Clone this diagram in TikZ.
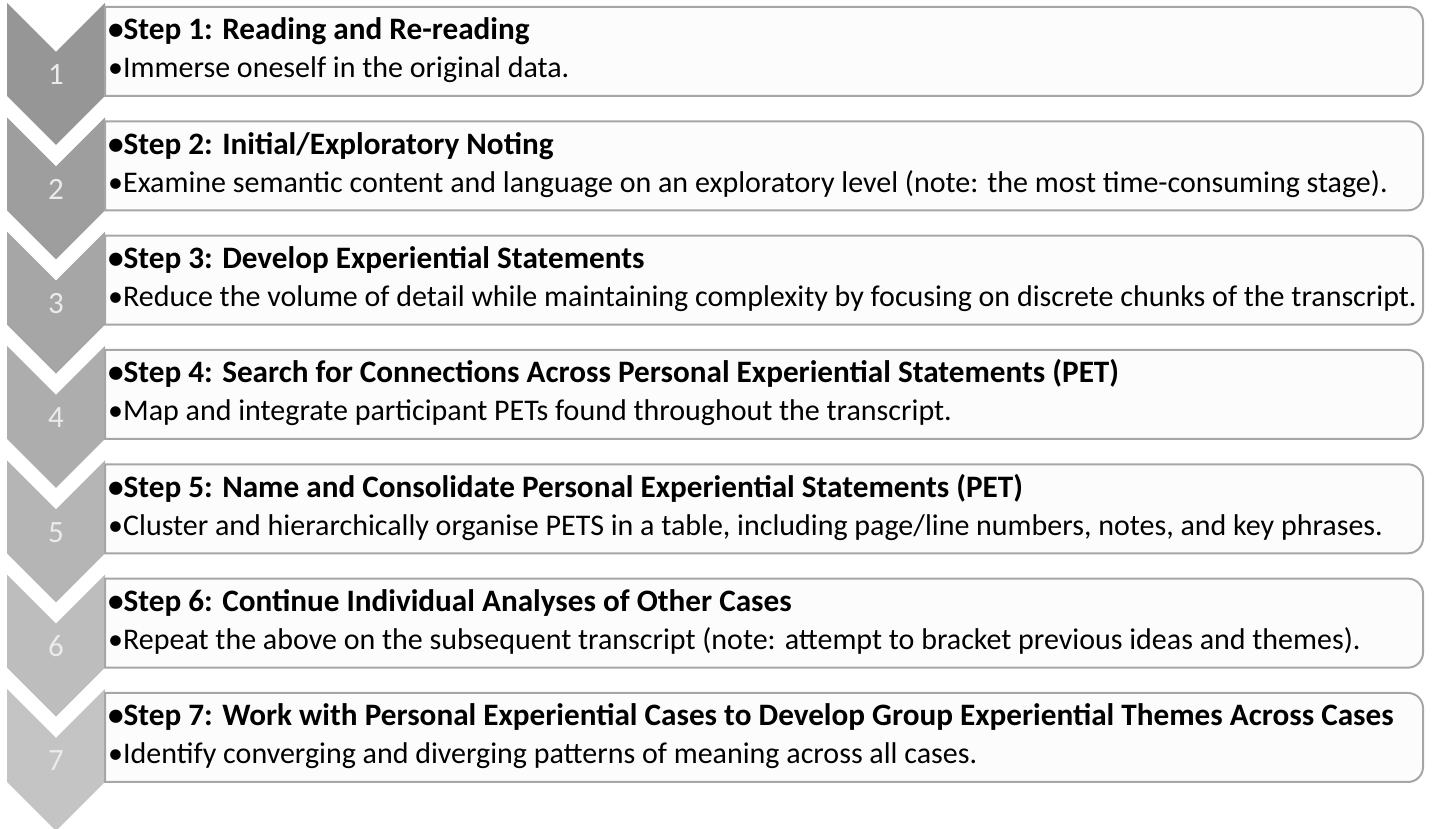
\documentclass[tikz,border=0pt]{standalone}
\usepackage{fontspec}
\setmainfont{Carlito}
\begin{document}
\begin{tikzpicture}[x=1pt,y=1pt,
  boxstyle/.style={draw=black!35, line width=2pt, fill=black!1},
  numstyle/.style={text=white!92!black, font=\fontsize{31}{34}\selectfont},
  titlestyle/.style={anchor=base west, inner sep=0pt, font=\fontsize{31.2}{34}\selectfont\bfseries},
  descstyle/.style={anchor=base west, inner sep=0pt, font=\fontsize{30}{34}\selectfont}]
\useasboundingbox (0,0) rectangle (1432,829);
\foreach \k/\g/\ti/\de in {
 1/41/{Reading and Re-reading}/{Immerse oneself in the original data.},
 2/38/{Initial/Exploratory Noting}/{Examine semantic content and language on an exploratory level (note: the most time-consuming stage).},
 3/35/{Develop Experiential Statements}/{Reduce the volume of detail while maintaining complexity by focusing on discrete chunks of the transcript.},
 4/32/{Search for Connections Across Personal Experiential Statements (PET)}/{Map and integrate participant PETs found throughout the transcript.},
 5/29/{Name and Consolidate Personal Experiential Statements (PET)}/{Cluster and hierarchically organise PETS in a table, including page/line numbers, notes, and key phrases.},
 6/26/{Continue Individual Analyses of Other Cases}/{Repeat the above on the subsequent transcript (note: attempt to bracket previous ideas and themes).},
 7/23/{Work with Personal Experiential Cases to Develop Group Experiential Themes Across Cases}/{Identify converging and diverging patterns of meaning across all cases.}}{
  \pgfmathsetmacro\t{829-3-(\k-1)*114.33}
  \pgfmathsetmacro\bt{829-7-(\k-1)*114.33}
  \pgfmathsetmacro\bb{\bt-89}
  \fill[black!\g] (7,\t) -- (56,\t-49) -- (105,\t) -- (105,\t-93) -- (56,\t-142) -- (7,\t-93) -- cycle;
  \node[numstyle] (num\k) at (56,\t-72) {\k};
  \draw[boxstyle] (105,\bt) -- (1408,\bt) arc[start angle=90,end angle=0,radius=15]
     -- (1423,\bb+15) arc[start angle=0,end angle=-90,radius=15] -- (105,\bb) -- cycle;
  \node[titlestyle] (title\k) at (108,\bt-33) {•Step \k: \ti};
  \node[descstyle] (desc\k) at (108,\bt-71) {•\de};
}
\end{tikzpicture}
\end{document}
